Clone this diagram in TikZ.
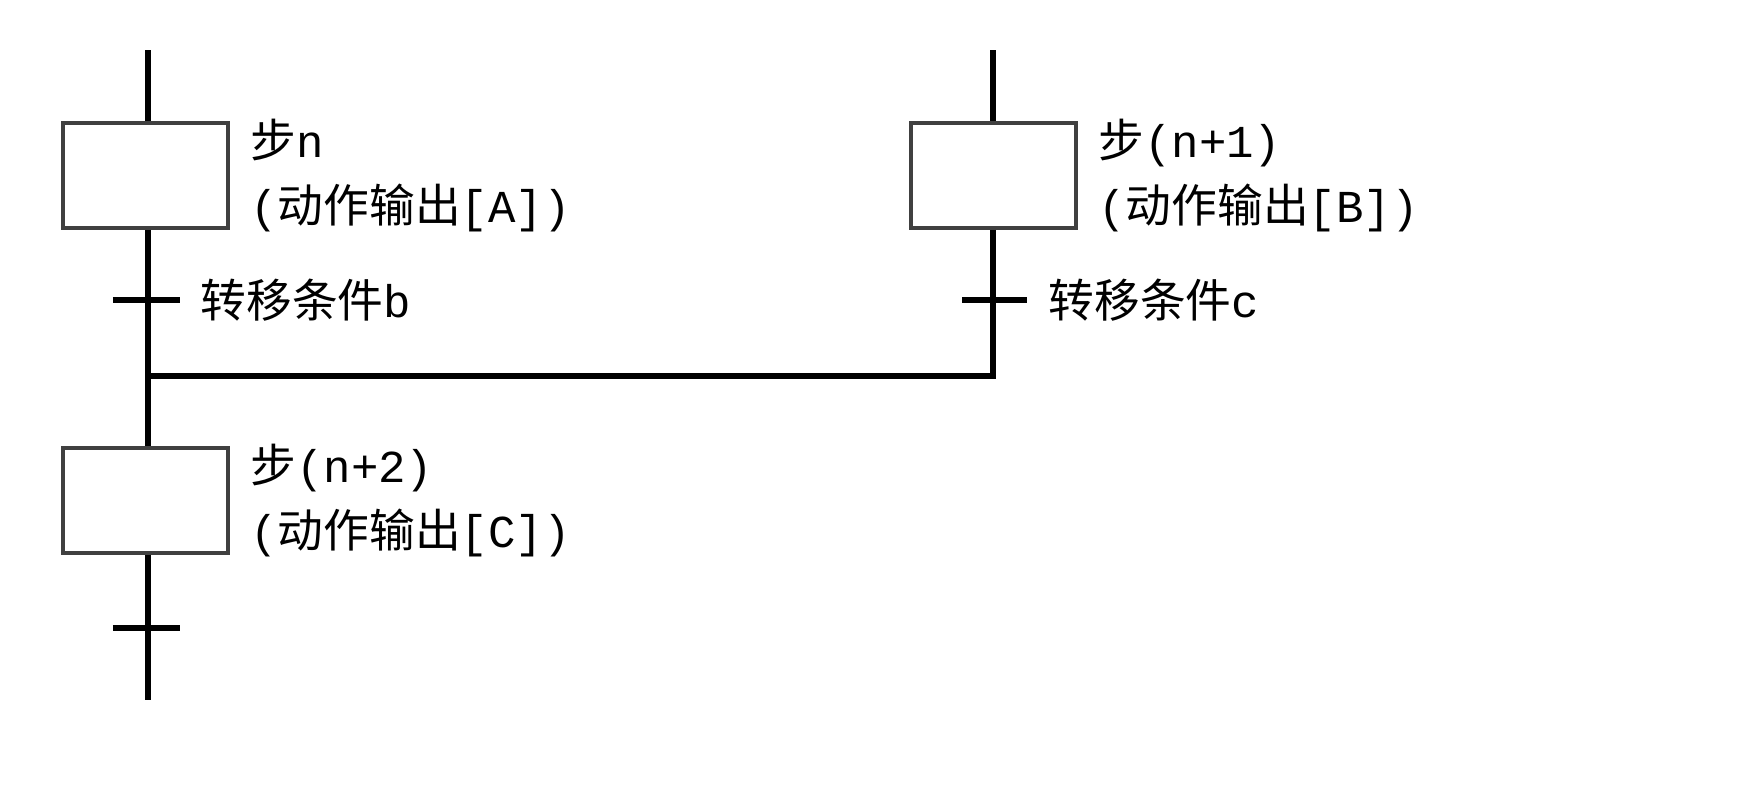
\documentclass[tikz,border=0pt]{standalone}
\usepackage{fontspec}
\setmainfont{Liberation Mono}
\newfontfamily\cjk{Noto Sans CJK SC}
\usetikzlibrary{positioning}

\begin{document}
\begin{tikzpicture}[
    x=0.01cm, y=-0.01cm,
    stepbox/.style={rectangle, draw=black!75, line width=1pt, minimum width=1.65cm, minimum height=1.05cm, inner sep=0pt},
    wire/.style={line width=1.5pt},
    lbl/.style={anchor=west, align=left, font=\fontsize{13pt}{18.5pt}\selectfont, inner sep=0pt}
]
\useasboundingbox (0,0) rectangle (1737,797);

% steps
\node[stepbox] (stepn) at (145.5,175.5) {};
\node[stepbox] (stepm) at (993.5,175.5) {};
\node[stepbox] (stepk) at (145.5,500.5) {};

\node[lbl, right=0.2cm of stepn.east] (txtn) {{\cjk 步}n\\({\cjk 动作输出}[A])};
\node[lbl, right=0.2cm of stepm.east] (txtm) {{\cjk 步}(n+1)\\({\cjk 动作输出}[B])};
\node[lbl, right=0.2cm of stepk.east] (txtk) {{\cjk 步}(n+2)\\({\cjk 动作输出}[C])};

% transitions
\coordinate (topl) at (148,50);
\coordinate (topr) at (993,50);
\coordinate (trb) at (148,300);
\coordinate (trc) at (993,300);
\coordinate (joinl) at (148,376);
\coordinate (joinr) at (993,376);
\coordinate (trd) at (148,628);
\coordinate (endl) at (148,700);

\draw[wire] (topl) -- (stepn.north -| topl);
\draw[wire] (stepn.south -| topl) -- (stepk.north -| topl);
\draw[wire] (stepk.south -| topl) -- (endl);
\draw[wire] (topr) -- (stepm.north -| topr);
\draw[wire] (stepm.south -| topr) -- (joinr) -- (joinl);

\draw[wire] ([xshift=-0.35cm]trb) -- ([xshift=0.32cm]trb);
\draw[wire] ([xshift=-0.31cm]trc) -- ([xshift=0.34cm]trc);
\draw[wire] ([xshift=-0.35cm]trd) -- ([xshift=0.32cm]trd);

\node[lbl] (condb) at (200,300) {{\cjk 转移条件}b};
\node[lbl] (condc) at (1048,300) {{\cjk 转移条件}c};

\end{tikzpicture}
\end{document}
